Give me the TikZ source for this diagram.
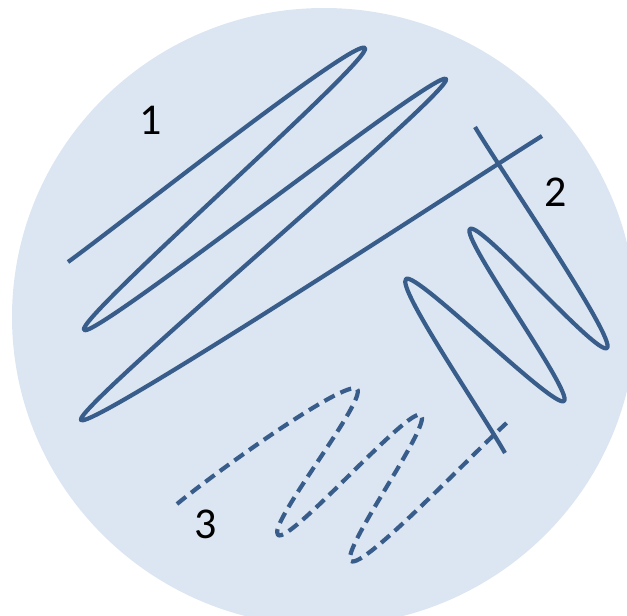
\documentclass[tikz,border=0pt]{standalone}
\usepackage{fontspec}
\setmainfont{Carlito}
\definecolor{dishfill}{HTML}{DCE6F2}
\definecolor{streakcol}{HTML}{385D8A}
\tikzset{
  streak/.style={draw=streakcol, line width=4.2pt, line join=round},
  dashstreak/.style={streak, dash pattern=on 11.5pt off 6.5pt},
  lbl/.style={font=\fontsize{44}{44}\selectfont, inner sep=0pt, anchor=base, text=black}
}
\begin{document}
\begin{tikzpicture}[x=1pt,y=-1pt]
\useasboundingbox (0,0) rectangle (627,616);
\clip (0,0) rectangle (627,616);
\fill[dishfill] (324,317) ellipse [x radius=312, y radius=309];
% streak 1
\coordinate (s0) at (68,262);
\coordinate (t1) at (365,48);
\coordinate (t2) at (84,330);
\coordinate (t3) at (446,79);
\coordinate (t4) at (81,420);
\coordinate (e1) at (542,136);
\draw[streak] (s0) .. controls +(48.7,-35.1) and +(-9.1,-10.7) .. (t1)
  .. controls +(9.1,10.7) and +(-9.0,-10.7) .. (t2)
  .. controls +(9.0,10.7) and +(-8.8,-10.9) .. (t3)
  .. controls +(8.8,10.9) and +(-8.4,-11.2) .. (t4)
  .. controls +(8.4,11.2) and +(-51.1,31.4) .. (e1);
% streak 2
\coordinate (a0) at (475,127);
\coordinate (b1) at (607,348);
\coordinate (b2) at (470,229);
\coordinate (b3) at (564,401);
\coordinate (b4) at (406,279);
\coordinate (b5) at (505,453);
\draw[streak] (a0) .. controls +(25.7,43.0) and +(10.0,-8.3) .. (b1)
  .. controls +(-10.0,8.3) and +(10.1,-8.2) .. (b2)
  .. controls +(-10.1,8.2) and +(9.9,-8.5) .. (b3)
  .. controls +(-9.9,8.5) and +(9.8,-8.5) .. (b4)
  .. controls +(-9.8,8.5) and +(-24.8,-43.5) .. (b5);
% streak 3
\coordinate (c0) at (177,504);
\coordinate (c1) at (357,389);
\coordinate (c2) at (278,535);
\coordinate (c3) at (421,415);
\coordinate (c4) at (351,561);
\coordinate (c5) at (511,419);
\draw[dashstreak] (c0) .. controls +(40,-33) and +(-11.0,-10.2) .. (c1)
  .. controls +(11.0,10.2) and +(-11.7,-9.4) .. (c2)
  .. controls +(11.7,9.4) and +(-11.9,-9.1) .. (c3)
  .. controls +(11.9,9.1) and +(-12.0,-9.0) .. (c4)
  .. controls +(12.0,9.0) and +(-37.4,33.2) .. (c5);
% labels
\node[lbl] (l1) at (150.5,134) {1};
\node[lbl] (l2) at (556,206) {2};
\node[lbl] (l3) at (206,538) {3};
\end{tikzpicture}
\end{document}
